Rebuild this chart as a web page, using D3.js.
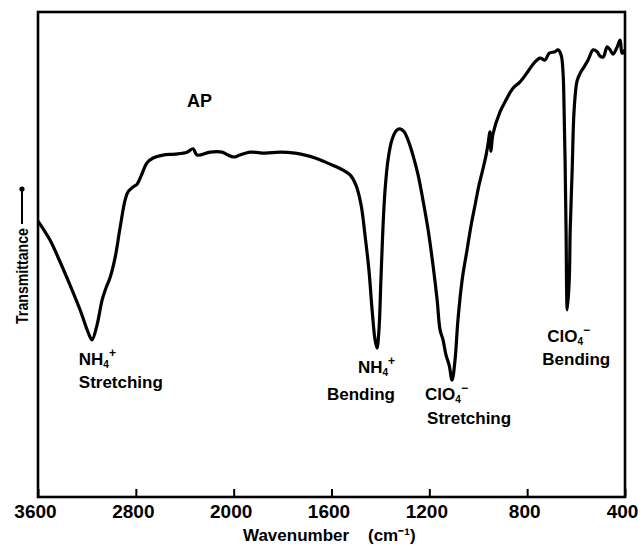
<!DOCTYPE html>
<html lang="en">
<head>
  <meta charset="UTF-8">
  <title>AP infrared spectrum</title>
  <style>
    body { margin: 0; background: #fff; }
    svg text { font-family: "Liberation Sans", Arial, sans-serif; font-weight: bold; fill: #000; }
  </style>
</head>
<body>
  <svg id="chart" width="643" height="547"></svg>

  <script src="https://d3js.org/d3.v7.min.js"></script>
  <script>
    // wavenumber (cm-1) and transmittance (% of frame height)
    const wavenumber = [3600, 3502, 3420, 3338, 3256, 3191, 3158, 3117, 3076, 3044, 3011, 2970, 2929, 2888,
      2864, 2823, 2790, 2757, 2708, 2659, 2578, 2479, 2381, 2332, 2299, 2193, 2095, 2046, 2000,
      1974, 1933, 1872, 1811, 1749, 1708, 1667, 1627, 1586, 1553, 1524, 1500, 1479, 1463, 1447,
      1434, 1422, 1414, 1406, 1398, 1390, 1381, 1369, 1353, 1336, 1320, 1303, 1287, 1267, 1246,
      1226, 1205, 1185, 1168, 1156, 1144, 1132, 1119, 1107, 1095, 1083, 1066, 1046, 1029, 1013,
      997, 980, 968, 960, 952, 948, 940, 911, 886, 858, 829, 796, 768, 747, 727, 710, 686, 674,
      661, 653, 649, 645, 641, 636, 628, 624, 616, 608, 596, 583, 567, 551, 530, 514, 502, 489,
      473, 461, 449, 432, 420, 412, 400];
    const transmittance = [56.9, 53.0, 48.5, 43.7, 38.6, 34.0, 32.4, 35.5, 40.6, 43.1, 45.2, 49.3, 55.5, 61.2,
      62.9, 63.9, 64.5, 66.2, 68.9, 69.9, 70.5, 70.7, 71.1, 71.8, 70.5, 71.1, 71.1, 70.5, 70.1,
      70.5, 71.1, 70.9, 71.1, 70.9, 70.5, 69.9, 69.1, 68.2, 67.4, 66.4, 64.3, 60.2, 54.0, 46.8,
      38.6, 32.4, 30.7, 34.4, 44.7, 55.1, 63.3, 69.5, 73.6, 75.5, 75.9, 75.3, 73.6, 70.5, 66.4,
      61.2, 55.1, 47.8, 40.6, 34.4, 32.4, 29.3, 27.2, 24.1, 28.2, 36.5, 44.7, 50.9, 56.1, 60.2,
      64.3, 67.8, 70.5, 72.8, 75.3, 71.3, 74.8, 79.4, 81.9, 84.3, 85.6, 87.8, 89.7, 90.5, 90.1, 91.5, 91.8, 92.2,
      91.1, 87.2, 79.8, 69.5, 55.1, 38.6, 44.7, 55.1, 67.4, 79.8, 85.8, 87.4, 88.7, 90.1, 92.2, 91.8, 90.9, 90.7,
      92.8, 92.2, 91.3, 92.8, 94.2, 91.5, 92.2];

    const tickValues = [3600, 2800, 2000, 1600, 1200, 800, 400];

    // band labels: first line (formula) and second line
    const bandNames = ["NH", "NH", "ClO", "ClO"];
    const bandSub = ["4", "4", "4", "4"];
    const bandSup = ["+", "+", "\u2212", "\u2212"];
    const bandKind = ["Stretching", "Bending", "Stretching", "Bending"];
    const bandWave = [3160, 1414, 1107, 636];

    const svg = d3.select("#chart");
    const plotLeft = 38, plotRight = 625, plotTop = 12, plotBottom = 497;

    // chart paper: scale doubles below 2000 cm-1
    const x = d3.scaleLinear()
      .domain([3600, 2000, 400])
      .range([plotLeft, plotLeft + (plotRight - plotLeft) / 3, plotRight]);
    const y = d3.scaleLinear().domain([0, 100]).range([plotBottom, plotTop]);

    const data = wavenumber.map((w, i) => ({ w: w, t: transmittance[i] }));

    // frame
    svg.append("rect")
      .attr("x", plotLeft).attr("y", plotTop)
      .attr("width", plotRight - plotLeft).attr("height", plotBottom - plotTop)
      .attr("fill", "none").attr("stroke", "#000").attr("stroke-width", 2.6);

    // bottom axis, ticks pointing up
    const axis = svg.append("g")
      .attr("transform", `translate(0,${plotBottom})`)
      .call(d3.axisBottom(x).tickValues(tickValues).tickSizeInner(-8).tickSizeOuter(0).tickFormat(d3.format("d")));
    axis.select(".domain").remove();
    axis.selectAll(".tick line").attr("stroke", "#000").attr("stroke-width", 2);
    axis.selectAll(".tick text")
      .attr("y", 21).attr("dy", 0).attr("dx", -3)
      .style("font-family", "Liberation Sans, Arial, sans-serif")
      .style("font-weight", "bold")
      .style("font-size", "19px");

    // axis title
    svg.append("text").attr("x", 243).attr("y", 541).style("font-size", "17px").text("Wavenumber");
    svg.append("text").attr("x", 368).attr("y", 541).style("font-size", "17px").text("(cm\u207B\u00B9)");

    // y title with arrow
    svg.append("text")
      .attr("transform", "translate(28,276) rotate(-90)")
      .attr("text-anchor", "middle")
      .attr("textLength", 96).attr("lengthAdjust", "spacingAndGlyphs")
      .style("font-size", "17px")
      .text("Transmittance");
    svg.append("line").attr("x1", 22).attr("x2", 22).attr("y1", 224).attr("y2", 190)
      .attr("stroke", "#000").attr("stroke-width", 2);
    svg.append("circle").attr("cx", 22).attr("cy", 189).attr("r", 2.6).attr("fill", "#000");

    // spectrum trace
    const line = d3.line().x(d => x(d.w)).y(d => y(d.t)).curve(d3.curveCatmullRom.alpha(0.5));
    svg.append("path")
      .datum(data)
      .attr("fill", "none")
      .attr("stroke", "#000")
      .attr("stroke-width", 3.2)
      .attr("stroke-linejoin", "round")
      .attr("d", line);

    svg.append("text").attr("x", 187).attr("y", 107).style("font-size", "18px").text("AP");

    // band labels, positioned relative to their minima
    const labelDx = [-13, -19, -27, -20];
    const labelDy = [25, 25, 20, 32];
    const kindDx = [-13, -50, -25, -25];
    const gap = [23, 27, 24, 23];
    bandNames.forEach((name, i) => {
      const px = x(bandWave[i]);
      const minT = d3.min(data.filter(d => Math.abs(d.w - bandWave[i]) < 30), d => d.t);
      const py = y(minT);
      const t = svg.append("text")
        .attr("x", px + labelDx[i]).attr("y", py + labelDy[i])
        .style("font-size", "17px");
      t.append("tspan").text(name);
      t.append("tspan").attr("dy", 3).style("font-size", "10px").text(bandSub[i]);
      t.append("tspan").attr("dy", -11).style("font-size", "12px").text(bandSup[i]);
      svg.append("text")
        .attr("x", px + kindDx[i]).attr("y", py + labelDy[i] + gap[i])
        .style("font-size", "17px")
        .text(bandKind[i]);
    });
  </script>
</body>
</html>
